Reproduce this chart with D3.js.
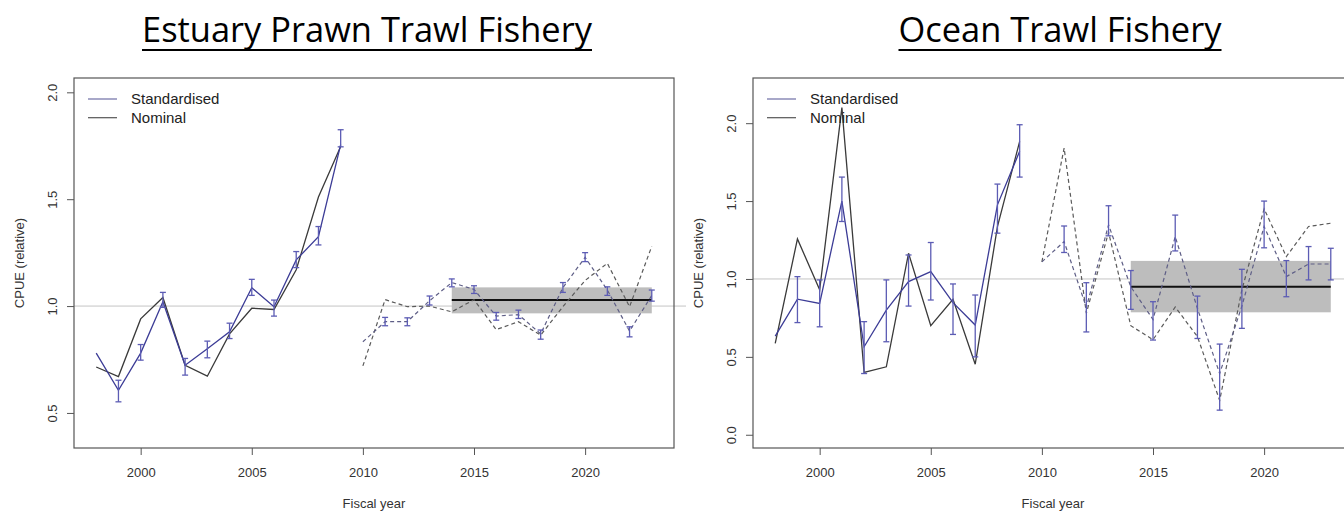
<!DOCTYPE html>
<html>
<head>
<meta charset="utf-8">
<script src="https://cdn.jsdelivr.net/npm/d3@7"></script>
<style>
  body { margin: 0; background: #fff; }
  svg { display: block; }
</style>
</head>
<body>
<script>
// размеры картинки
const width = 1344;
const height = 511;

// годы (общие для обеих панелей)
const years = [1998, 1999, 2000, 2001, 2002, 2003, 2004, 2005, 2006, 2007, 2008, 2009,
               2010, 2011, 2012, 2013, 2014, 2015, 2016, 2017, 2018, 2019, 2020, 2021, 2022, 2023];
const xTicks = [2000, 2005, 2010, 2015, 2020];

// Estuary Prawn Trawl Fishery
const estStd   = [0.78, 0.606, 0.78, 1.02, 0.723, 0.80, 0.88, 1.086, 0.997, 1.216, 1.325, 1.755,
                  0.833, 0.927, 0.927, 1.025, 1.11, 1.078, 0.953, 0.96, 0.87, 1.086, 1.228, 1.075, 0.883, 1.05];
const estStdLo = [null, 0.552, 0.747, 0.994, 0.677, 0.758, 0.848, 1.05, 0.953, 1.18, 1.286, 1.745,
                  null, 0.908, 0.908, 1.005, 1.09, 1.059, 0.934, 0.942, 0.845, 1.064, 1.208, 1.05, 0.856, 1.023];
const estStdHi = [null, 0.653, 0.82, 1.064, 0.755, 0.836, 0.92, 1.125, 1.028, 1.255, 1.372, 1.825,
                  null, 0.947, 0.945, 1.047, 1.127, 1.095, 0.97, 0.981, 0.888, 1.11, 1.25, 1.09, 0.903, 1.075];
const estNom   = [0.715, 0.67, 0.94, 1.04, 0.723, 0.672, 0.87, 0.99, 0.984, 1.17, 1.51, 1.747,
                  0.72, 1.03, 0.997, 1.0, 0.973, 1.03, 0.89, 0.927, 0.864, 0.997, 1.12, 1.2, 0.997, 1.28];
const estBand  = {from: 2014, to: 2023, lo: 0.966, hi: 1.0875, mean: 1.028};

// Ocean Trawl Fishery
const ocnStd   = [0.633, 0.87, 0.843, 1.50, 0.565, 0.80, 0.983, 1.047, 0.848, 0.704, 1.476, 1.82,
                  1.11, 1.24, 0.818, 1.347, 0.95, 0.74, 1.272, 0.81, 0.393, 0.826, 1.337, 1.015, 1.096, 1.096];
const ocnStdLo = [null, 0.72, 0.693, 1.369, 0.393, 0.597, 0.826, 0.865, 0.644, 0.50, 1.294, 1.654,
                  null, 1.17, 0.66, 1.277, 0.805, 0.608, 1.18, 0.618, 0.158, 0.683, 1.20, 0.886, 0.994, 0.994];
const ocnStdHi = [null, 1.015, 0.994, 1.654, 0.726, 0.994, 1.154, 1.234, 0.968, 0.897, 1.609, 1.99,
                  null, 1.34, 0.976, 1.47, 1.054, 0.854, 1.41, 0.89, 0.582, 1.062, 1.50, 1.118, 1.208, 1.197];
const ocnNom   = [0.586, 1.257, 0.93, 2.10, 0.40, 0.436, 1.165, 0.70, 0.87, 0.453, 1.336, 1.883,
                  1.11, 1.84, 0.78, 1.30, 0.70, 0.61, 0.82, 0.63, 0.22, 0.93, 1.45, 1.144, 1.337, 1.358];
const ocnBand  = {from: 2014, to: 2023, lo: 0.786, hi: 1.116, mean: 0.95};

const legendLabels = ['Standardised', 'Nominal'];

// цвета
const stdColor = '#3c3c96';
const errColor = '#5c5cb4';
const nomColor = '#3a3a3a';
const dashStd = '#5e5e86';
const dashNom = '#5a5a5a';

let svg = d3.select('body')
    .append('svg')
    .attr('width', width)
    .attr('height', height);

// одна панель графика
function drawPanel(cfg) {
    let x = d3.scaleLinear().domain([1997, 2024]).range([cfg.left, cfg.left + 600]);
    let y = d3.scaleLinear().domain(cfg.yDomain).range([448, 78]);

    let rows = years.map((yr, i) => ({
        year: yr, std: cfg.std[i], lo: cfg.lo[i], hi: cfg.hi[i], nom: cfg.nom[i]
    }));
    let early = rows.filter(d => d.year <= 2009);
    let late = rows.filter(d => d.year >= 2010);

    let g = svg.append('g').classed('panel', true);

    // заголовок с подчёркиванием
    g.append('text')
        .attr('x', cfg.titleX)
        .attr('y', 42)
        .attr('text-anchor', 'middle')
        .style('font-family', 'Open Sans, sans-serif')
        .style('font-size', '34px')
        .attr('fill', '#000')
        .attr('textLength', cfg.titleW)
        .attr('lengthAdjust', 'spacingAndGlyphs')
        .text(cfg.title);
    g.append('line')
        .attr('x1', cfg.titleX - cfg.titleW / 2).attr('x2', cfg.titleX + cfg.titleW / 2)
        .attr('y1', 50).attr('y2', 50)
        .attr('stroke', '#000').attr('stroke-width', 2);

    // линия y = 1
    g.append('line')
        .attr('x1', x(1997)).attr('x2', Math.min(x(2024) + 12, width))
        .attr('y1', y(1)).attr('y2', y(1))
        .attr('stroke', '#c4c4c4').attr('stroke-width', 1);

    // серая полоса и средняя
    let b = cfg.band;
    g.append('rect')
        .attr('x', x(b.from)).attr('y', y(b.hi))
        .attr('width', x(b.to) - x(b.from)).attr('height', y(b.lo) - y(b.hi))
        .attr('fill', '#bdbdbd');
    g.append('line')
        .attr('x1', x(b.from)).attr('x2', x(b.to))
        .attr('y1', y(b.mean)).attr('y2', y(b.mean))
        .attr('stroke', '#111').attr('stroke-width', 2);

    let stdLine = d3.line().x(d => x(d.year)).y(d => y(d.std));
    let nomLine = d3.line().x(d => x(d.year)).y(d => y(d.nom));

    g.append('path').datum(early).attr('d', nomLine)
        .attr('fill', 'none').attr('stroke', nomColor).attr('stroke-width', 1.3);
    g.append('path').datum(early).attr('d', stdLine)
        .attr('fill', 'none').attr('stroke', stdColor).attr('stroke-width', 1.3);
    g.append('path').datum(late).attr('d', nomLine)
        .attr('fill', 'none').attr('stroke', dashNom).attr('stroke-width', 1.2)
        .attr('stroke-dasharray', '4,3');
    g.append('path').datum(late).attr('d', stdLine)
        .attr('fill', 'none').attr('stroke', dashStd).attr('stroke-width', 1.2)
        .attr('stroke-dasharray', '4,3');

    // планки погрешностей
    let bars = g.append('g').classed('errbars', true)
        .selectAll('g')
        .data(rows.filter(d => d.lo != null))
        .enter()
        .append('g')
        .attr('stroke', errColor)
        .attr('stroke-width', 1.3);
    bars.append('line')
        .attr('x1', d => x(d.year)).attr('x2', d => x(d.year))
        .attr('y1', d => y(d.lo)).attr('y2', d => y(d.hi));
    bars.append('line')
        .attr('x1', d => x(d.year) - 3).attr('x2', d => x(d.year) + 3)
        .attr('y1', d => y(d.lo)).attr('y2', d => y(d.lo));
    bars.append('line')
        .attr('x1', d => x(d.year) - 3).attr('x2', d => x(d.year) + 3)
        .attr('y1', d => y(d.hi)).attr('y2', d => y(d.hi));

    // рамка
    g.append('rect')
        .attr('x', x(1997)).attr('y', 78)
        .attr('width', x(2024) - x(1997)).attr('height', 370)
        .attr('fill', 'none').attr('stroke', '#555').attr('stroke-width', 1.2);

    // оси
    let xAxis = d3.axisBottom(x).tickValues(xTicks).tickFormat(d3.format('d')).tickSize(7).tickPadding(13);
    let xAxisGroup = g.append('g')
        .classed('x', true).classed('axis', true)
        .attr('transform', `translate(0,448)`)
        .call(xAxis);
    xAxisGroup.select('.domain').remove();

    let yAxis = d3.axisLeft(y).tickValues(cfg.yTicks).tickFormat(d3.format('.1f')).tickSize(7);
    let yAxisGroup = g.append('g')
        .classed('y', true).classed('axis', true)
        .attr('transform', `translate(${x(1997)},0)`)
        .call(yAxis);
    yAxisGroup.select('.domain').remove();
    // подписи по вертикали, как в R
    yAxisGroup.selectAll('text')
        .attr('x', null).attr('y', null).attr('dy', null)
        .attr('text-anchor', 'middle')
        .attr('transform', 'translate(-17,0) rotate(-90)');

    g.selectAll('.axis line').attr('stroke', '#555');
    g.selectAll('.axis text')
        .attr('fill', '#333')
        .style('font-family', 'Liberation Sans, Arial, sans-serif')
        .style('font-size', '13px');

    g.append('text')
        .attr('x', (cfg.left + cfg.left + 600) / 2)
        .attr('y', 508)
        .attr('text-anchor', 'middle')
        .attr('fill', '#333')
        .style('font-family', 'Liberation Sans, Arial, sans-serif')
        .style('font-size', '13px')
        .text('Fiscal year');

    g.append('text')
        .attr('transform', `translate(${cfg.left - 50},263) rotate(-90)`)
        .attr('text-anchor', 'middle')
        .attr('fill', '#333')
        .style('font-family', 'Liberation Sans, Arial, sans-serif')
        .style('font-size', '13px')
        .text('CPUE (relative)');

    // легенда
    let leg = g.append('g').classed('legend', true)
        .selectAll('g')
        .data(legendLabels)
        .enter()
        .append('g')
        .attr('transform', (d, i) => `translate(${x(1997) + 14},${99 + i * 18.7})`);
    leg.append('line')
        .attr('x1', 0).attr('x2', 29)
        .attr('y1', 0).attr('y2', 0)
        .attr('stroke', (d, i) => i === 0 ? '#6e6ea4' : '#555')
        .attr('stroke-width', 1.2);
    leg.append('text')
        .attr('x', 43).attr('y', 5)
        .attr('fill', '#222')
        .style('font-family', 'Liberation Sans, Arial, sans-serif')
        .style('font-size', '15px')
        .text(d => d);
}

drawPanel({
    title: 'Estuary Prawn Trawl Fishery', titleX: 367, titleW: 450,
    left: 74, yDomain: [0.336, 2.067], yTicks: [0.5, 1.0, 1.5, 2.0],
    std: estStd, lo: estStdLo, hi: estStdHi, nom: estNom, band: estBand
});

drawPanel({
    title: 'Ocean Trawl Fishery', titleX: 1060, titleW: 323,
    left: 753, yDomain: [-0.085, 2.29], yTicks: [0.0, 0.5, 1.0, 1.5, 2.0],
    std: ocnStd, lo: ocnStdLo, hi: ocnStdHi, nom: ocnNom, band: ocnBand
});
</script>
</body>
</html>
